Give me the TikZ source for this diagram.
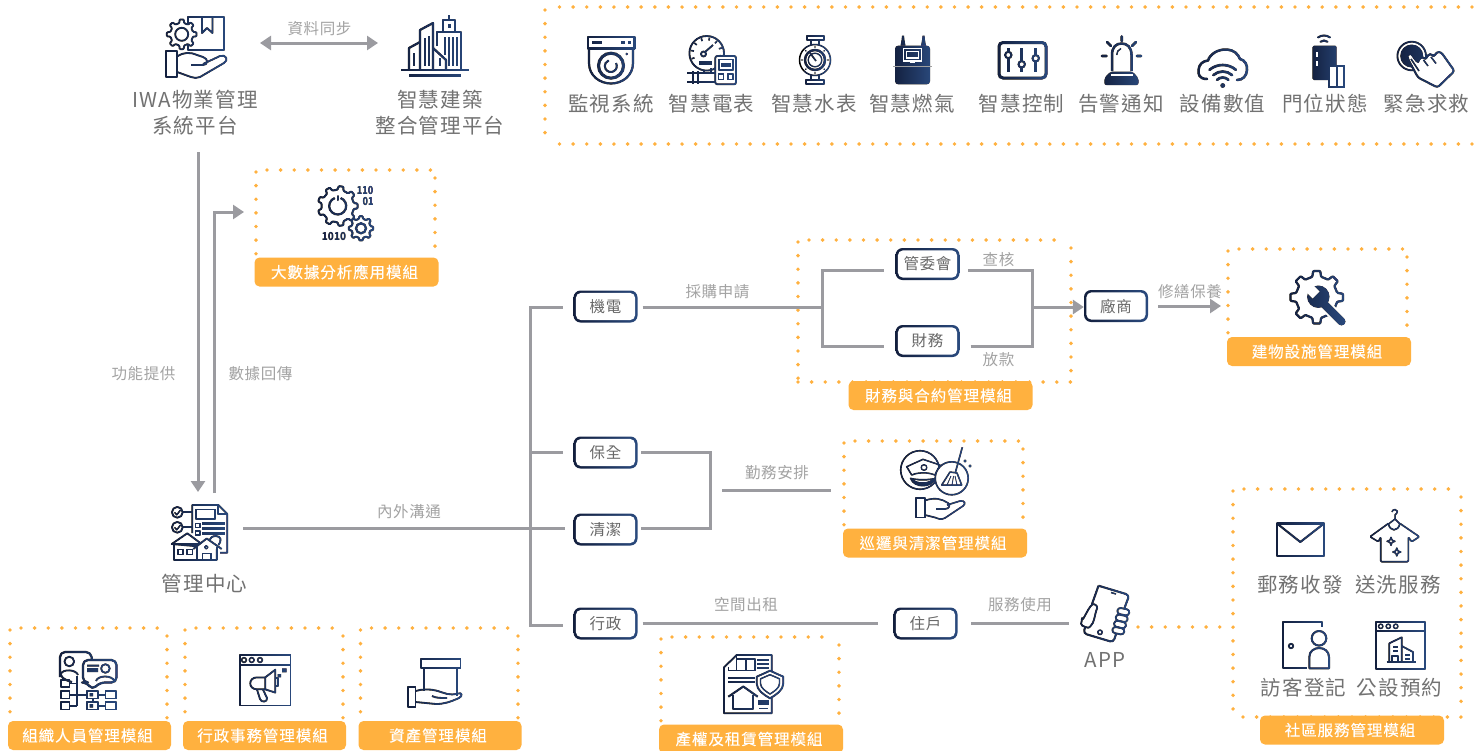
\documentclass[tikz,border=0pt]{standalone}
\usepackage{fontspec}
\usetikzlibrary{arrows.meta,calc}
\newfontfamily\fmain{Noto Sans CJK TC}[LetterSpace=5.5]
\newfontfamily\fsmall{Noto Sans CJK TC}[LetterSpace=4]
\newfontfamily\fmod{Noto Sans CJK TC}[LetterSpace=6,FakeBold=0.15]
\setmainfont{Noto Sans CJK TC}
\definecolor{orangeC}{HTML}{FFB13F}
\definecolor{lineC}{HTML}{9B9BA0}
\definecolor{smallC}{HTML}{A3A3A3}
\definecolor{mainC}{HTML}{727272}
\definecolor{gradL}{HTML}{131F3D}
\definecolor{gradR}{HTML}{2A4A7E}
\colorlet{ic}{black}
\tikzset{
  icn/.style={draw=ic,line width=1.8pt,line join=round},
  icf/.style={fill=ic,draw=none},
  thk/.style={draw=ic,line width=2.6pt,line join=round,line cap=round},
  mainlab/.style={inner sep=0pt,text=mainC,font=\fontsize{20.5}{26}\selectfont\fmain,align=center},
  smalllab/.style={inner sep=0pt,text=smallC,font=\fontsize{15.5}{18}\selectfont\fsmall},
  modlab/.style={fill=orangeC,rounded corners=5pt,text=white,inner sep=0pt,minimum width=184pt,minimum height=29pt,font=\fontsize{15.5}{18}\selectfont\fmod,execute at begin node={\hspace*{-4pt}}},
  conn/.style={draw=lineC,line width=3pt},
  arr/.style={conn,-{Triangle[length=11pt,width=14pt]}},
  dotf/.style={draw=orangeC,line width=3.9pt,line cap=round,dash pattern=on 0pt off 13.62pt},
  flowbox/.style={rounded corners=7pt,minimum width=64pt,minimum height=32pt,inner sep=0pt,
    left color=gradL,right color=gradR,text=mainC!90!black,font=\fontsize{15.5}{18}\selectfont\fsmall,
    path picture={\fill[white,rounded corners=5pt]
      ($(path picture bounding box.south west)+(2.4pt,2.4pt)$) rectangle
      ($(path picture bounding box.north east)-(2.4pt,2.4pt)$);}},
  bit/.style={inner sep=0pt,text=ic,font=\fontsize{11}{12}\selectfont\bfseries}
}
\newcommand\gearic[6]{% cx cy ro ri teeth lw
  \pgfmathsetmacro\gs{360/#5}
  \draw[icn,fill=white,line width=#6pt,rounded corners=0.8pt,shift={(#1,#2)}]
    ({-0.27*\gs}:#4) \foreach \k in {1,...,#5}{
      -- ({(\k-1)*\gs-0.27*\gs}:#4) -- ({(\k-1)*\gs-0.17*\gs}:#3)
      -- ({(\k-1)*\gs+0.17*\gs}:#3) -- ({(\k-1)*\gs+0.27*\gs}:#4)} -- cycle;}
\newcommand\sparkic[3]{\draw[icn,line width=1.4pt,fill=white,shift={(#1,#2)}]
  (0,-#3) -- ({.28*#3},{-.28*#3}) -- (#3,0) -- ({.28*#3},{.28*#3}) -- (0,#3)
  -- ({-.28*#3},{.28*#3}) -- (-#3,0) -- ({-.28*#3},{-.28*#3}) -- cycle;}
\newcommand\gradic[4]{\fill[blend mode=lighten,left color=gradL,right color=gradR] (#1,#2) rectangle (#3,#4);}
\newcommand\dotfr[4]{% L T R B
  \draw[dotf] ({#1+11},#2) -- ({#3-4},#2);
  \draw[dotf] (#1,{#2+2}) -- (#1,#4);
  \draw[dotf] (#3,{#2+8}) -- (#3,#4);}
\begin{document}
\begin{tikzpicture}[x=1pt,y=-1pt]
\useasboundingbox (0,0) rectangle (1474,750);
\fill[white] (0,0) rectangle (1474,750);

%% dotted frames
\draw[dotf] (1472,7) -- (558,7);
\draw[dotf] (545,10) -- (545,140);
\draw[dotf] (1472,144) -- (556,144);
\dotfr{256}{170}{435}{254}
\dotfr{10}{628}{167}{720}
\dotfr{185}{628}{343}{720}
\dotfr{360.5}{628}{518}{720}
\dotfr{798}{240}{1071}{382}
\draw[dotf] (798,382) -- (1071,382);
\dotfr{1228}{249}{1407}{333}
\dotfr{844}{441}{1023}{525}
\dotfr{661}{637}{839}{722}
\dotfr{1233}{489}{1461}{714}
\draw[dotf] (1243,717) -- (1461,717);
\coordinate (appDot) at (1138,627);
\coordinate (socDot) at (1226,627);
\draw[dotf] (appDot) -- (socDot);

%% module labels
\node[modlab] (m1) at (346.5,272) {大數據分析應用模組};
\node[modlab] (m2) at (940.5,395.5) {財務與合約管理模組};
\node[modlab] (m3) at (1319,351.5) {建物設施管理模組};
\node[modlab] (m4) at (935,543) {巡邏與清潔管理模組};
\node[modlab] (m5) at (751,739) {產權及租賃管理模組};
\node[modlab] (m6) at (1352,730) {社區服務管理模組};
\node[modlab,minimum width=163pt] (m7) at (89.5,735.5) {組織人員管理模組};
\node[modlab,minimum width=163pt] (m8) at (264.5,735.5) {行政事務管理模組};
\node[modlab,minimum width=163pt] (m9) at (440,735.5) {資產管理模組};

%% main labels
\node[mainlab] (iwa) at (195,113) {IWA物業管理\\系統平台};
\node[mainlab] (bim) at (440,113) {智慧建築\\整合管理平台};
\node[mainlab] (c1) at (611,104) {監視系統};
\node[mainlab] (c2) at (711.5,104) {智慧電表};
\node[mainlab] (c3) at (814,104) {智慧水表};
\node[mainlab] (c4) at (912,104) {智慧燃氣};
\node[mainlab] (c5) at (1021.5,104) {智慧控制};
\node[mainlab] (c6) at (1121,104) {告警通知};
\node[mainlab] (c7) at (1222.5,104) {設備數值};
\node[mainlab] (c8) at (1325,104) {門位狀態};
\node[mainlab] (c9) at (1426.5,104) {緊急求救};
\node[mainlab] (mc) at (204.5,584) {管理中心};
\node[mainlab] (app) at (1105,660) {APP};
\node[mainlab] (s1) at (1300,585) {郵務收發};
\node[mainlab] (s2) at (1398,585) {送洗服務};
\node[mainlab] (s3) at (1303.5,688) {訪客登記};
\node[mainlab] (s4) at (1399.5,688) {公設預約};

%% small labels
\node[smalllab] (l1) at (319.5,28.5) {資料同步};
\node[smalllab] (l2) at (143.5,373.5) {功能提供};
\node[smalllab] (l3) at (260.5,373.5) {數據回傳};
\node[smalllab] (l4) at (409,511.5) {內外溝通};
\node[smalllab] (l5) at (717.5,291.5) {採購申請};
\node[smalllab] (l6) at (998.5,259.5) {查核};
\node[smalllab] (l7) at (998.5,359.5) {放款};
\node[smalllab] (l8) at (1190,291.5) {修繕保養};
\node[smalllab] (l9) at (777,472.5) {勤務安排};
\node[smalllab] (l10) at (746,604.5) {空間出租};
\node[smalllab] (l11) at (1020,604.5) {服務使用};

%% flow nodes
\node[flowbox] (jd) at (605.5,306.5) {機電};
\node[flowbox] (bq) at (605.5,452.5) {保全};
\node[flowbox] (qj) at (605.5,529.5) {清潔};
\node[flowbox] (xz) at (605.5,623.5) {行政};
\node[flowbox] (zh) at (925.5,623.5) {住戶};
\node[flowbox] (gw) at (927.5,264) {管委會};
\node[flowbox] (cw) at (927.5,341) {財務};
\node[flowbox] (cs) at (1116,306) {廠商};

%% connectors
\coordinate (syncL) at (260,43);
\coordinate (syncR) at (378,43);
\draw[conn,{Triangle[length=11pt,width=14pt]}-{Triangle[length=11pt,width=14pt]}] (syncL) -- (syncR);
\coordinate (iwaOut) at (198,152);
\coordinate (mcIn) at (198,492);
\draw[arr] (iwaOut) -- (mcIn);
\coordinate (mcOut) at (214,493);
\coordinate (bigIn) at (244,212);
\draw[arr] (mcOut) |- (bigIn);
\coordinate (busT) at (530,307);
\coordinate (busB) at (530,625);
\draw[conn,line cap=rect] (busT) -- (busB);
\draw[conn,shorten >=10pt] (busT) -- (jd.west |- busT);
\coordinate (busQ) at (530,452.7);
\draw[conn,shorten >=10pt] (busQ) -- (bq.west |- busQ);
\draw[conn,shorten >=10pt] (busB) -- (xz.west |- busB);
\coordinate (mcR) at (243,528);
\draw[conn,shorten >=8pt] (mcR) -- (qj.west |- mcR);
% 機電 -> bracket
\coordinate (brL) at (822.5,307);
\coordinate (brLt) at (822.5,270);
\coordinate (brLb) at (822.5,346);
\draw[conn,shorten <=5pt] (jd.east |- brL) -- (brL);
\draw[conn,line cap=rect] (brLt) -- (brLb);
\draw[conn,shorten >=11pt] (brLt) -- (gw.west |- brLt);
\draw[conn,shorten >=11pt] (brLb) -- (cw.west |- brLb);
\coordinate (brR) at (1032,307);
\coordinate (brRt) at (1032,270);
\coordinate (brRb) at (1032,346);
\draw[conn,line cap=rect] (brRt) -- (brRb);
\draw[conn,shorten <=8.5pt] (gw.east |- brRt) -- (brRt);
\draw[conn,shorten <=11pt] (cw.east |- brRb) -- (brRb);
\draw[arr] (brR) -- (cs.west |- brR);
\coordinate (fixE) at (1221,306);
\draw[arr,shorten <=10pt] (cs.east |- fixE) -- (fixE);
% 保全 清潔 bracket
\coordinate (qbT) at (710,452.7);
\coordinate (qbB) at (710,528.7);
\draw[conn,shorten <=5pt,line cap=rect] (bq.east |- qbT) -- (qbT);
\draw[conn,shorten <=5pt,line cap=rect] (qj.east |- qbB) -- (qbB);
\draw[conn,line cap=rect] (qbT) -- (qbB);
\coordinate (dutyL) at (722,490);
\coordinate (dutyR) at (831,490);
\draw[conn] (dutyL) -- (dutyR);
% 行政 -> 住戶 -> APP
\coordinate (rentY) at (640,623);
\draw[conn,shorten <=5pt,shorten >=15.5pt] (xz.east |- rentY) -- (zh.west |- rentY);
\coordinate (appIn) at (1069,623);
\draw[conn,shorten <=13.5pt] (zh.east |- appIn) -- (appIn);

%% ---------- icons ----------
% IWA
\draw[icn] (188,17) rectangle (224,50);
\draw[icn] (202,17)--(202,33)--(207,28)--(212.5,33)--(212.5,17);
\gearic{181.7}{34.3}{15}{11.5}{8}{1.8}
\draw[icn] (181.7,34.3) circle (6.5);
\draw[icn,fill=white] (166,51) rectangle (177,77);
\draw[icn] (177,56.5) .. controls (184,52) and (190,52) .. (197,55) -- (203,57) .. controls (209,59) and (208,65) .. (203,65) -- (191,65);
\draw[icn] (203,64) -- (220,56) .. controls (226,54) and (229,60) .. (224,63) -- (200,77) .. controls (197,78.5) and (194,78) .. (191,77) -- (177,72);
\gradic{164}{15}{228}{80}
% building
\draw[icn,line width=2pt] (401,70) -- (469,70);
\draw[ic,line width=3pt] (409,75.7) -- (461,75.7);
\draw[icn,line width=2.2pt] (409,70) -- (409,48) -- (420,42);
\draw[icn,line width=2.2pt] (420,70) -- (420,30) -- (433,23) -- (433,70);
\draw[icn,line width=2.2pt] (437,46) -- (437,32) -- (461,32) -- (461,70);
\draw[icn,line width=2.2pt] (443,32) -- (443,20) -- (455,20) -- (455,32);
\draw[icn,line width=2.2pt] (449,15) -- (449,20);
\fill[ic] (447.5,24) rectangle (450.5,28);
\draw[icn,line width=2.2pt] (433,48) -- (446,60) -- (446,70);
\draw[icn,line width=1.5pt] (414,53) -- (414,66) (425,38) -- (425,66) (429,36) -- (429,66) (440,58) -- (440,66)
  (445,37) -- (445,55) (449,37) -- (449,66) (453,37) -- (453,66) (457,37) -- (457,66);
\gradic{400}{13}{470}{78}
% CCTV
\draw[icn,line width=2.6pt] (588,37) rectangle (634.5,48.5);
\fill[ic] (592,40.5) rectangle (602,44);
\fill[ic] (621,40.5) rectangle (625,44);
\fill[ic] (627.5,40.5) rectangle (631,44);
\draw[icn,line width=2.2pt] (589,49) -- (589,63) .. controls (589,76) and (600,83.5) .. (611,83.5) .. controls (622,83.5) and (633,76) .. (633,63) -- (633,49);
\draw[ic,line width=3pt] (611,65.7) circle (12.5);
\draw[ic,line width=2pt] (616,63) arc (-30:250:6);
\fill[ic] (626.7,54) circle (1.3);
\gradic{585}{34}{637}{86}
% electric meter
\draw[icn,fill=white] (706.7,53.3) circle (17.3);
\foreach \a in {-200,-170,...,20}{\draw[ic,line width=1.6pt] (706.7,53.3) ++(\a:13) -- ++(\a:3);}
\draw[icn] (703.5,54) circle (2.5);
\draw[icn] (705,52) -- (713,45);
\fill[ic] (699,61) rectangle (712,65);
\draw[icn] (687,72.7) -- (715,72.7) (687,81.7) -- (715,81.7) (693.3,71) -- (693.3,84) (698.3,71) -- (698.3,84) (704,70) -- (704,72.7) (711,68) -- (711,72.7);
\draw[icn,fill=white,rounded corners=2pt] (715.3,56) rectangle (736,84.3);
\draw[icn] (718.8,59.5) rectangle (733,70);
\fill[ic] (720.5,63) rectangle (731,67);
\draw[icn,line width=1.6pt] (718.5,74) rectangle (723.5,79.3) (727.8,74) rectangle (732.8,79.3);
\gradic{685}{34}{738}{86}
% water meter
\draw[icn] (806.7,35.7) rectangle (824,40);
\draw[icn] (810.7,40) -- (810.7,45) (819.3,40) -- (819.3,45);
\draw[icn] (806,80) rectangle (824,84.3);
\draw[icn] (810.7,75) -- (810.7,80) (819.3,75) -- (819.3,80);
\draw[icn,line width=1.5pt,fill=white] (815,60) circle (15.5);
\draw[ic,line width=2.4pt] (815,60) circle (10);
\draw[icn,line width=1.3pt] (815,60) circle (6.8);
\draw[icn,line width=1.6pt] (810,53) -- (816,61);
\foreach \a in {0,45,...,315}{\fill[ic] (815,60) ++(\a:13) circle (0.9);}
\gradic{804}{34}{832}{86}
% gas meter
\fill[ic] (900.5,45.7) -- (901.5,40) -- (902,35.7) -- (904,35.7) -- (904.5,40) -- (905.5,45.7) -- cycle;
\fill[ic] (921,45.7) -- (922,40) -- (922.5,35.7) -- (924.5,35.7) -- (925,40) -- (926,45.7) -- cycle;
\fill[ic,rounded corners=3pt] (895,45.7) rectangle (930,84.3);
\draw[white,line width=1.4pt] (903.5,48.5) rectangle (921.5,61);
\draw[white,line width=1.2pt] (906.5,51.5) rectangle (918.5,58);
\fill[white] (910,61) rectangle (915,62.5);
\draw[line width=1.5pt,color=gray!75] (893,66.7) -- (932,66.7);
\gradic{892}{34}{933}{86}
% control panel
\draw[ic,line width=3pt,rounded corners=4pt] (999,42.5) rectangle (1046,78);
\draw[ic,line width=2.8pt] (1008.3,48.3) -- (1008.3,71.7) (1021.7,48.3) -- (1021.7,71.7) (1035.7,48.3) -- (1035.7,71.7);
\draw[ic,line width=2pt,fill=white] (1008.3,55) circle (3.2) (1021.7,64.3) circle (3.2) (1035.7,58.3) circle (3.2);
\gradic{996}{40}{1048}{80}
% alarm
\fill[ic,rounded corners=2pt] (1104.3,85) -- (1104.3,78) -- (1110.5,71.5) -- (1132.5,71.5) -- (1138.5,78) -- (1138.5,85) -- cycle;
\draw[white,line width=1.3pt] (1110.5,75) -- (1132.5,75);
\draw[icn,line width=2.5pt] (1112,71) -- (1112,55) .. controls (1112,47) and (1116,43.5) .. (1121.7,43.5) .. controls (1127,43.5) and (1131.5,47) .. (1131.5,55) -- (1131.5,71);
\draw[ic,line width=1.4pt] (1116.7,55) .. controls (1116.7,52) and (1118,50) .. (1121,48.5);
\draw[thk] (1121.7,36.5) -- (1121.7,41) (1107,42) -- (1111,46) (1136,42) -- (1132,46) (1102,56) -- (1106.5,56) (1137,56) -- (1141,56);
\gradic{1100}{34}{1143}{87}
% cloud wifi
\draw[icn,line width=2.5pt,line cap=round] (1207,79) .. controls (1199,79) and (1198,74) .. (1198.5,70) .. controls (1199,64) and (1203,61) .. (1208,60.5) .. controls (1210,54) and (1218,49) .. (1227,49.5) .. controls (1234,50) and (1238,54) .. (1240,59) .. controls (1245,60) and (1247.5,65) .. (1247,70) .. controls (1246.5,76) and (1243,80) .. (1237,80);
\fill[ic] (1222.7,85.5) circle (2.4);
\draw[ic,line width=2.6pt,line cap=round] (1222.7,85.5) ++(-135:8) arc (-135:-45:8);
\draw[ic,line width=2.6pt,line cap=round] (1222.7,85.5) ++(-132:14) arc (-132:-48:14);
\draw[ic,line width=2.6pt,line cap=round] (1222.7,85.5) ++(-130:20.5) arc (-130:-50:20.5);
\gradic{1195}{46}{1250}{90}
% door sensor
\fill[ic,rounded corners=1.5pt] (1312.3,45.7) rectangle (1336.7,80);
\draw[white,line width=2pt] (1316.7,51.5) -- (1316.7,56.5) (1316.7,61) -- (1316.7,65.5);
\draw[ic,fill=white,line width=2pt] (1328.5,66) rectangle (1344.3,87.3);
\draw[ic,line width=2pt] (1336.5,66) -- (1336.5,87.3);
\draw[ic,line width=2pt,line cap=round] (1324,46) ++(-125:10.5) arc (-125:-55:10.5);
\draw[ic,line width=2pt,line cap=round] (1324,46) ++(-130:5.5) arc (-130:-50:5.5);
\gradic{1310}{33}{1346}{89}
% emergency
\draw[ic,line width=1.8pt] (1411.7,56) circle (14.3);
\fill[ic] (1411.7,56) circle (11.5);
\draw[icn,fill=white,line width=2pt,rounded corners=2.5pt] (1408,59) .. controls (1407,54.5) and (1411,53.5) .. (1413,56.5) -- (1418,63) -- (1418.5,59.5) -- (1423,56.5) -- (1425.5,60) -- (1428,54.5) -- (1432,54) -- (1434,57) -- (1436.5,52) -- (1441,52) -- (1454.5,71) -- (1437.5,87.5) -- (1418,77.5) -- cycle;
\draw[ic,line width=1.5pt] (1411,59) -- (1419,71) (1423.5,60) -- (1428,66) (1431,57) -- (1436,63.5);
\gradic{1395}{39}{1457}{90}
% big data
\gearic{337.7}{206}{20}{16.3}{9}{2}
\draw[ic,line width=2.2pt] (337.7,206) ++(-70:8.5) arc (-70:250:8.5);
\draw[ic,line width=2pt,line cap=round] (337.7,196) -- (337.7,200);
\gearic{361}{228.3}{12.3}{9.7}{8}{2}
\draw[ic,line width=2.2pt] (361,228.3) circle (5);
\node[bit] (b1) at (365,190.7) {\scalebox{.82}[1]{110}};
\node[bit] (b2) at (368,201.7) {\scalebox{.82}[1]{01}};
\node[bit] (b3) at (334,236.7) {\scalebox{.9}[1]{1010}};
\gradic{316}{183}{376}{242}
% management centre
\draw[icn] (192.3,533) -- (192.3,505) -- (218.3,505) -- (227.3,514) -- (227.3,552.7) -- (220,552.7);
\draw[icn] (218.3,505) -- (218.3,514) -- (227.3,514);
\draw[icn] (195.7,509.5) rectangle (215,519.3);
\draw[icn,line width=1.5pt] (195.7,523.3) rectangle (200,527.3) (195.7,531) rectangle (200,535);
\draw[ic,line width=2.4pt] (202.3,523.5) -- (225,523.5) (202.3,528.5) -- (225,528.5) (202.3,533.5) -- (225,533.5);
\draw[icn] (177.3,512.3) circle (5.4) (177.3,527.3) circle (5.4);
\draw[icn,line width=1.5pt] (174.5,512.3) -- (176.8,514.8) -- (180.5,510) (174.5,527.3) -- (176.8,529.8) -- (180.5,525);
\draw[icn] (182.7,512.3) -- (192.3,512.3) (182.7,527.3) -- (192.3,527.3);
\draw[icn,fill=white] (218.5,545) .. controls (222,541) and (221,536) .. (216,536) .. controls (212,536) and (210,538) .. (209,541);
\draw[icn,fill=white] (171.7,544) -- (187.3,533.3) -- (201.7,544) -- (174,544) -- (174,560) -- (216.7,560) -- (216.7,548) -- cycle;
\draw[icn,fill=white] (193.3,549) -- (206.7,538.5) -- (221.7,549);
\draw[icn] (197,547) -- (197,560) (216.7,547) -- (216.7,560);
\draw[icn,line width=1.6pt] (177.7,549.3) rectangle (182.7,554.3) (186.7,549.3) rectangle (192.3,554.3);
\draw[icn,line width=1.6pt] (202.3,560) -- (202.3,553.5) -- (210.7,553.5) -- (210.7,560);
\draw[icn,line width=1.3pt] (206.3,547.3) circle (1.7);
\gradic{169}{503}{229.5}{562}
% HR org
\draw[icn,line width=2.2pt,rounded corners=5pt] (60,677) -- (60,652) -- (91,652) -- (92,660);
\draw[icn,line width=2pt] (60,671) .. controls (60,677) and (64,680) .. (72,682);
\draw[icn] (69.3,661.5) circle (4.8);
\draw[icn] (61,674) .. controls (62,669) and (76,669) .. (78,675);
\draw[icn,line width=2.2pt,fill=white,rounded corners=5pt] (83,660) -- (116.5,660) -- (116.5,682.5) -- (100,682.5) -- (92,690) -- (87,682.5) -- (83,682.5) -- cycle;
\fill[ic] (87,664.5) rectangle (99,666.6) (87,668) rectangle (98,672);
\draw[icn] (105.4,668.5) circle (4.3);
\draw[icn] (96,681) .. controls (98,675) and (112,675) .. (114.5,681);
\draw[icn,line width=1.5pt] (60.8,680) rectangle (69.3,687) (60.8,691) rectangle (69.3,698.4) (60.8,702) rectangle (69.3,709.5);
\draw[icn,line width=1.5pt] (87.2,691) rectangle (98,698.4) (87.2,702) rectangle (98,709.5) (105.7,691) rectangle (116,698.4) (105.7,702) rectangle (116,709.5);
\fill[ic] (89.5,693) rectangle (93,696.3) (89.5,704) rectangle (93,707.5);
\draw[icn] (69.3,683.5) -- (77,683.5) (69.3,694.7) -- (87.2,694.7) (69.3,705.7) -- (77,705.7) (77,676) -- (77,705.7) (92,690) -- (92,691) (92.6,698.4) -- (92.6,702) (98,694.7) -- (105.7,694.7) (98,705.7) -- (105.7,705.7);
\gradic{57}{650}{119}{711}
% announcement
\draw[icn] (240,655) rectangle (290.5,705.5);
\draw[icn] (240,665) -- (290.5,665);
\draw[icn,line width=1.5pt] (244,660) circle (2.4) (251.7,660) circle (2.4) (260,660) circle (2.4);
\draw[icn] (265.2,677.4) -- (275.3,669.7) -- (275.3,692.6) -- (265.2,689.3) -- cycle;
\draw[icn] (265.2,677.4) -- (257,677.4) .. controls (248,677.4) and (248,689.3) .. (257,689.3) -- (265.2,689.3);
\draw[icn] (257,689.5) -- (260,699) .. controls (261,703) and (268,702) .. (267,698) -- (263,689.5);
\draw[icn,line width=1.5pt] (275.3,678) -- (278,678) -- (278,686) -- (275.3,686);
\fill[ic] (282,668.3) rectangle (286.5,672.4) (277.7,674) rectangle (281,677.4);
\gradic{238}{653}{292.5}{707.5}
% assets
\draw[icn] (420.6,659) rectangle (460.5,668.3);
\draw[icn] (424,668.3) -- (424,691) (457,668.3) -- (457,696);
\draw[icn,fill=white] (408,686.6) rectangle (415.5,706.8);
\draw[icn] (415.5,691) .. controls (422,689) and (430,689) .. (436,690.5) .. controls (445,693) and (449,696) .. (458,693.5) .. controls (462,692) and (463,696) .. (459,698) .. controls (450,702) and (444,704) .. (436,704) -- (415.5,702);
\draw[icn] (432,696) .. controls (436,698) and (440,698) .. (447,698);
\gradic{406}{657}{463}{709}
% wrench gear
\gearic{1316.7}{297.3}{26.5}{21}{8}{2.2}
\draw[white,line width=12pt] (1326,306) -- (1342,322);
\draw[ic,line width=8pt,line cap=round] (1320,300) -- (1341.5,321.5);
\fill[ic] (1318.3,296.7) circle (11.2);
\fill[white] (1319.5,291.5) -- (1311,283) -- (1304,290) -- (1312.5,298.5) -- cycle;
\gradic{1288}{270}{1348}{327}
% patrol
\draw[icn,line width=1.6pt] (920,470) circle (19.3);
\draw[icn,line width=1.5pt] (906.7,466.7) -- (923,459.3) -- (940,465) -- (935,475) .. controls (927,472) and (919,472) .. (911.7,475) -- cycle;
\draw[icn,line width=1.3pt] (924,467.5) circle (2.8);
\draw[icn,line width=1.4pt,fill=ic] (910.5,478.3) .. controls (917,480) and (928,480) .. (935,478.5) .. controls (932,488) and (914,488.5) .. (910.5,478.3) -- cycle;
\fill[white] (914,479.8) .. controls (919,481) and (926,481) .. (931,480) .. controls (927,483) and (918,483) .. (914,479.8) -- cycle;
\draw[icn,line width=1.6pt,fill=white] (951.7,478.3) circle (16.5);
\draw[icn,line width=1.6pt] (962.3,447.3) -- (955.5,472);
\draw[icn,fill=white,line width=1.5pt] (950,472) -- (957,473) -- (961.7,485) -- (941.7,485) -- cycle;
\draw[icn,line width=.8pt] (947,485) -- (951,476) (952,485) -- (953.5,476) (957,485) -- (955,476);
\draw[ic,line width=1.3pt] (964,460) -- (966,462) (966,460) -- (964,462) (969,465) -- (971,467) (971,465) -- (969,467);
\draw[icn,fill=white,line width=1.6pt] (916,497.7) rectangle (925,517.3);
\draw[icn,line width=1.6pt] (925,500.5) .. controls (935,497) and (942,499) .. (948,503) .. controls (951,505) and (949,509) .. (945,509) -- (936,509);
\draw[icn,line width=1.6pt] (947,505) -- (960,501) .. controls (965,500) and (966,504) .. (963,506) -- (945,518) .. controls (941,520) and (938,519) .. (935,517.5) -- (925,515);
\gradic{899}{445}{973}{522}
% property
\draw[icn] (724,667.3) -- (736.7,655) -- (771.7,655) -- (771.7,713.3) -- (724,713.3) -- cycle;
\draw[icn,line width=1.5pt] (736.7,655) -- (736.7,671) (728.3,667.3) -- (728.3,670.7) -- (755,670.7) -- (755,659) -- (736.7,659) (746,659) -- (746,670.7);
\draw[ic,line width=1.8pt] (757,659.7) -- (769,659.7) (757,663.7) -- (769,663.7) (757,667.7) -- (769,667.7);
\draw[ic,line width=1.8pt] (728.3,678.3) -- (755,678.3) (728.3,682) -- (755,682);
\draw[icn,fill=white] (756.7,676.7) -- (770,670.7) -- (783.3,676.7) -- (783.3,683.5) .. controls (783.3,690) and (776,695) .. (770,698.3) .. controls (764,695) and (756.7,690) .. (756.7,683.5) -- cycle;
\draw[icn,line width=1.4pt] (760.5,678.8) -- (770,674.7) -- (779.5,678.8) -- (779.5,683.5) .. controls (779.5,688) and (774,691.5) .. (770,694) .. controls (766,691.5) and (760.5,688) .. (760.5,683.5) -- cycle;
\draw[icn,line width=2pt] (728.3,696.7) -- (743.3,686.5) -- (757.7,696.7);
\draw[icn] (732.7,695) -- (732.7,709.3) -- (753.3,709.3) -- (753.3,695);
\fill[ic] (758.3,700) rectangle (769.3,705);
\draw[ic,line width=1.3pt] (759.3,708.3) -- (768.3,708.3);
\gradic{722}{653}{785.3}{715.3}
% app
\draw[icn,rounded corners=3.5pt,line width=2pt] (1098.5,585.7) -- (1129.3,595) -- (1124.5,608) (1118,628) -- (1113.3,642.3) -- (1083.3,633.3) -- (1087,621) (1092,604) -- (1098.5,585.7);
\draw[icn,line width=1.5pt] (1111,592.5) -- (1116,594);
\draw[icn,line width=1.5pt] (1100,632.3) circle (2.2);
\draw[icn,fill=white,line width=1.8pt,rounded corners=3pt] (1082,621) -- (1090,606.5) .. controls (1094,603) and (1098,606) .. (1096,611) -- (1094,620) .. controls (1092,625) and (1089,628) .. (1085,627) .. controls (1083,626) and (1081,624) .. (1082,621) -- cycle;
\foreach \bx/\by in {1123.3/611.7,1121.7/618.3,1120/624.5,1118.3/630.7}{
  \draw[icn,fill=white,line width=1.8pt,rounded corners=3pt,rotate around={-12:(\bx,\by)}] (\bx-6,\by-3.1) rectangle (\bx+6,\by+3.1);}
\gradic{1080}{583}{1132}{645}
% envelope
\draw[icn,line width=2.2pt] (1277,523.5) rectangle (1324,556);
\draw[icn,line width=2pt] (1277,523.5) -- (1300.3,542) -- (1324,523.5);
\gradic{1275}{521}{1326}{558}
% shirt
\draw[icn,line width=1.6pt,rounded corners=1pt] (1388.3,523.5) -- (1370,536.7) -- (1378.3,541.7) -- (1380.7,537) -- (1380.7,561.7) -- (1408.3,561.7) -- (1408.3,537) -- (1411.7,541.7) -- (1419.3,536.7) -- (1400,523.5);
\draw[icn,line width=1.6pt] (1388.3,523.5) .. controls (1390,532) and (1398,532) .. (1400,523.5);
\draw[icn,line width=1.5pt] (1388.5,524) -- (1395,519) -- (1400,524) (1395,519) -- (1395,515) .. controls (1399,512) and (1397,509.5) .. (1395,509.5) .. controls (1393,509.5) and (1392,511) .. (1392,512);
\sparkic{1391}{541.3}{4}
\sparkic{1396.8}{552}{4}
\gradic{1368}{507}{1421}{564}
% visitor
\draw[icn,line width=2pt] (1321.7,626.7) -- (1321.7,621.7) -- (1283.3,621.7) -- (1283.3,668.3) -- (1306.7,668.3);
\draw[icn,line width=1.8pt] (1291,646) circle (2.2);
\draw[icn,line width=2pt] (1319,638.3) circle (7.3);
\draw[icn,line width=2pt] (1309.3,668.3) -- (1309.3,657) .. controls (1309.3,645) and (1329,645) .. (1329,657) -- (1329,668.3) -- cycle;
\gradic{1281}{620}{1331}{670.5}
% facility
\draw[icn] (1376,621.7) rectangle (1424.7,669);
\draw[icn] (1376,630.7) -- (1424.7,630.7);
\draw[icn,line width=1.4pt] (1380.7,626.3) circle (2.2) (1388.3,626.3) circle (2.2) (1395.7,626.3) circle (2.2);
\draw[icn] (1386.5,662) -- (1416,662);
\draw[icn,line width=1.7pt] (1389.3,662) -- (1389.3,643.3) -- (1401.7,637.3) -- (1401.7,662);
\draw[icn,line width=1.7pt] (1401.7,646) -- (1413,652) -- (1413,662);
\draw[icn,line width=1.2pt] (1393,647) -- (1398,647) (1393,651) -- (1398,651);
\draw[icn,line width=1.2pt] (1392,662) -- (1392,656) -- (1398,656) -- (1398,662);
\draw[icn,line width=1.2pt] (1405,655) -- (1410,655) (1405,659) -- (1410,659);
\gradic{1374}{619.7}{1426.7}{671}
\end{tikzpicture}
\end{document}
